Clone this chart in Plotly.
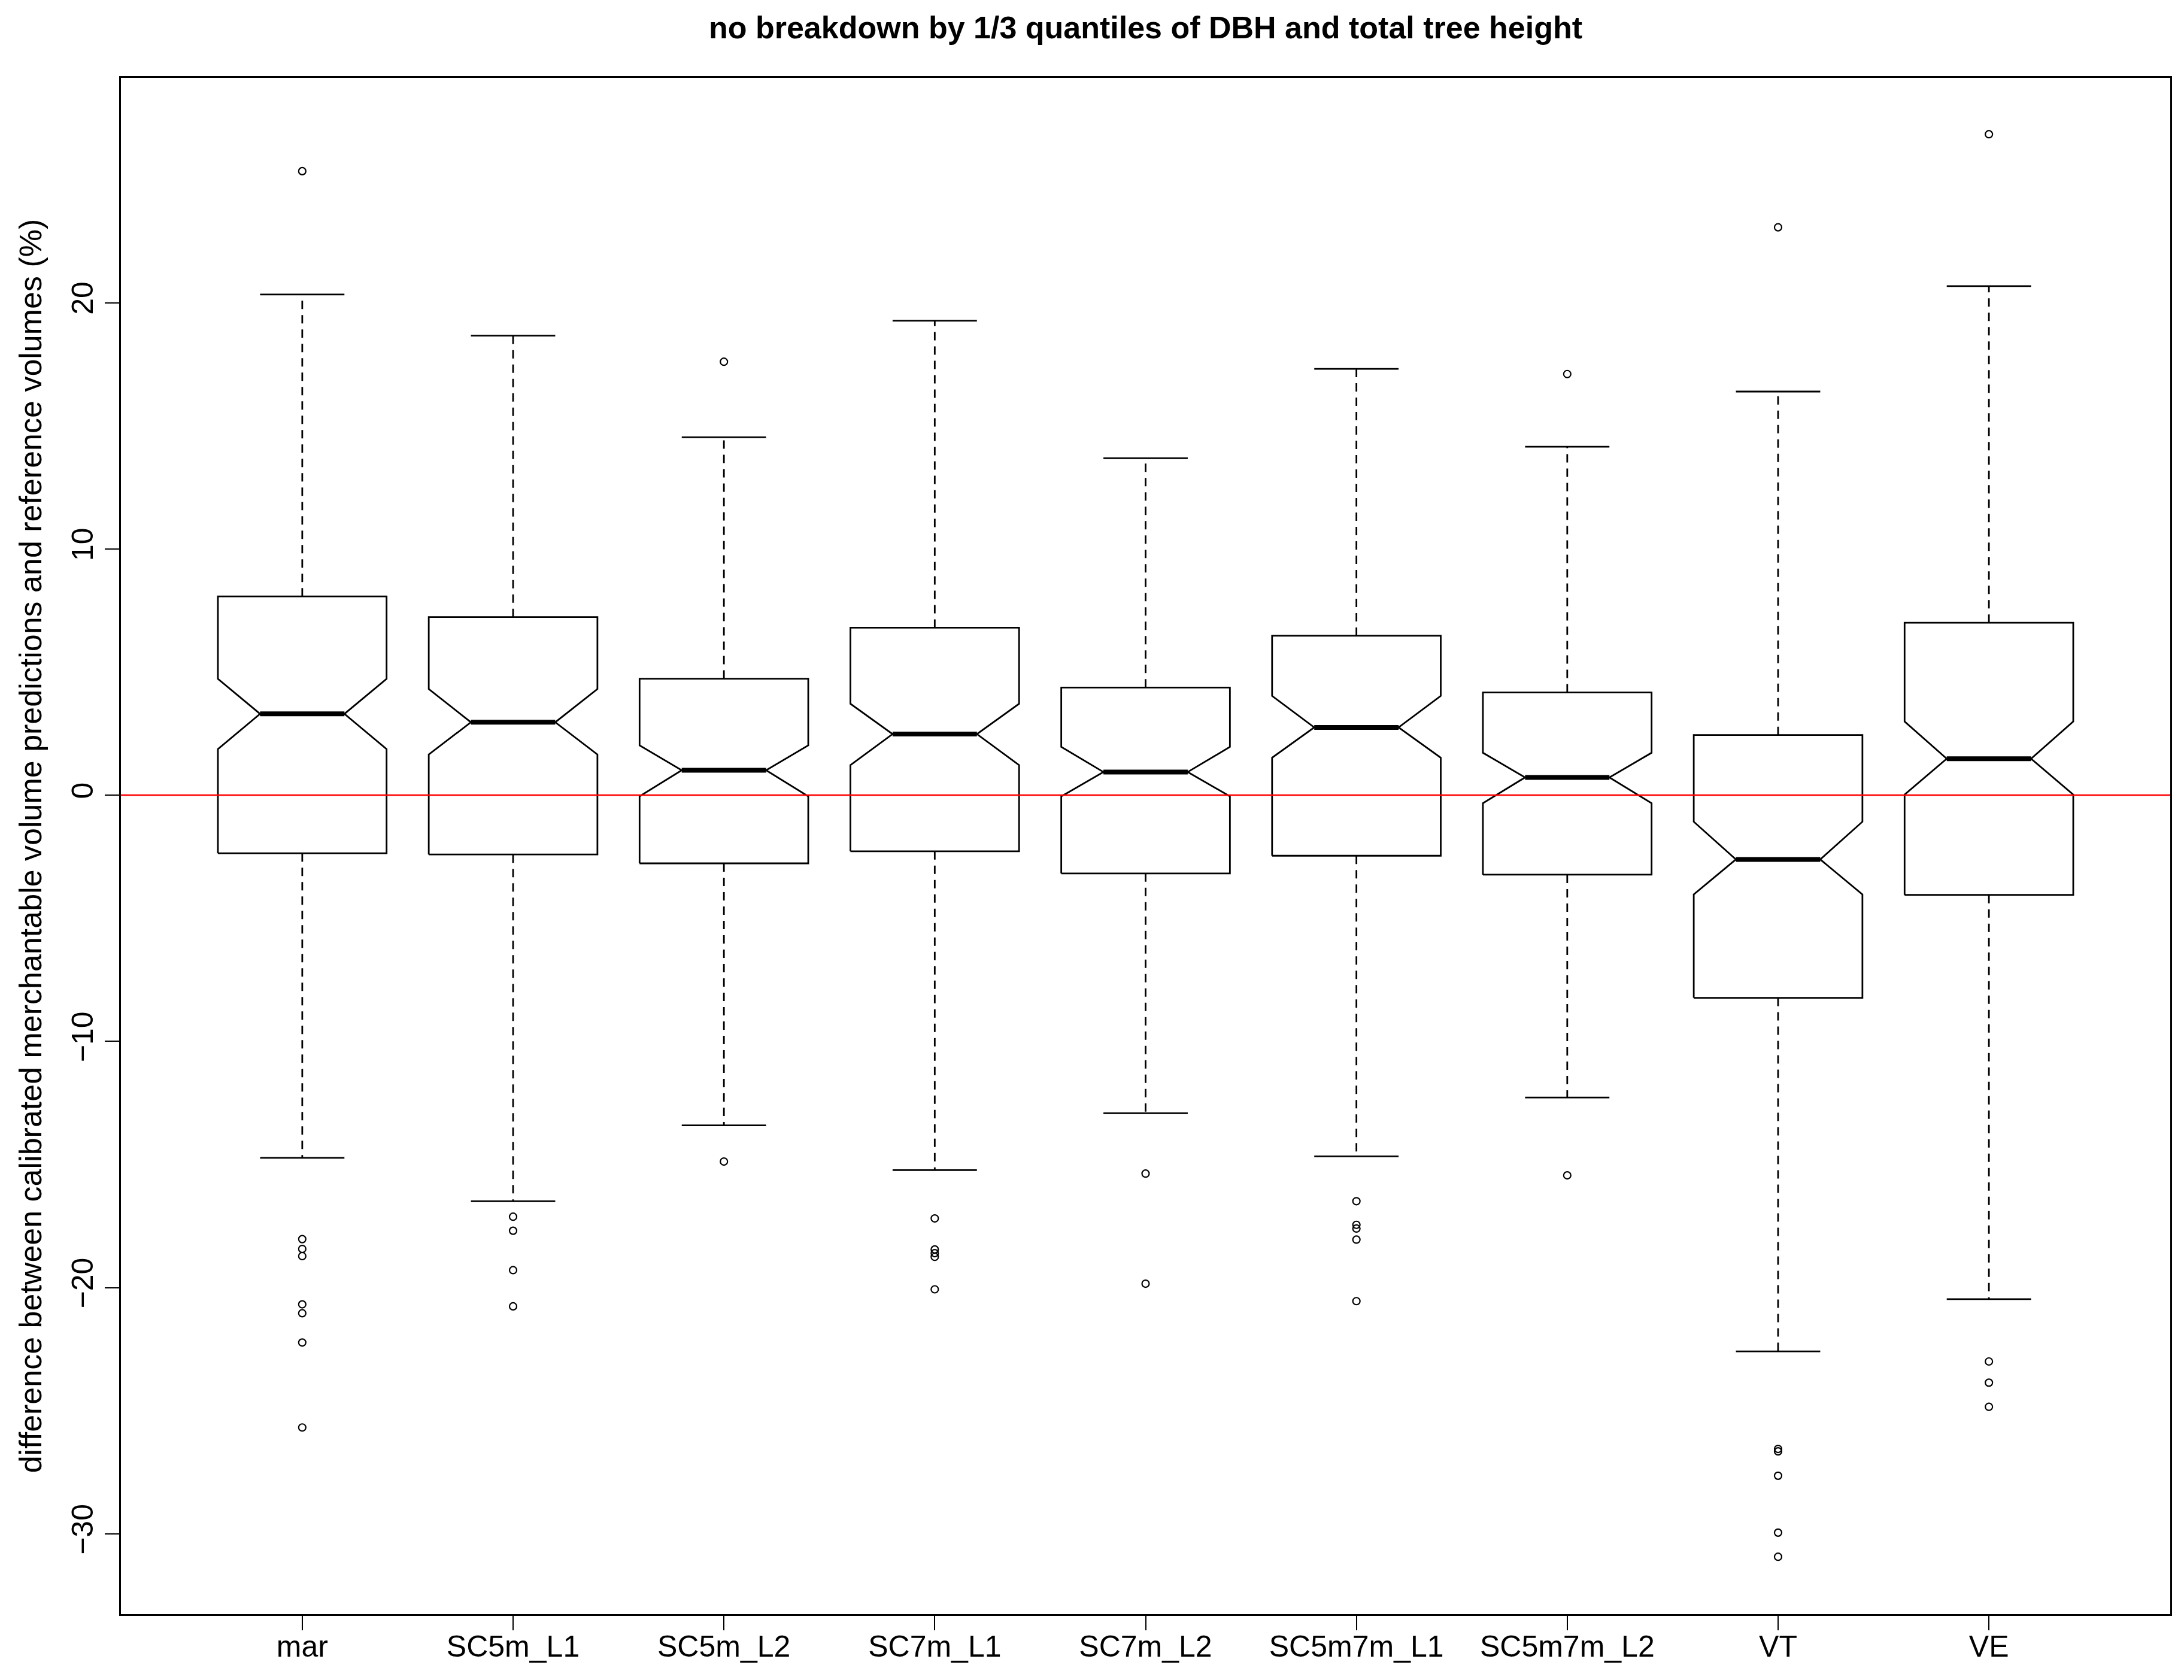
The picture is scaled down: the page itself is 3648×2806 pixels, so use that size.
import plotly.graph_objects as go

# boxplot statistics (values in %)
categories = ["mar", "SC5m_L1", "SC5m_L2", "SC7m_L1", "SC7m_L2",
              "SC5m7m_L1", "SC5m7m_L2", "VT", "VE"]
upper_whisker = [20.33, 18.66, 14.53, 19.27, 13.68, 17.31, 14.15, 16.39, 20.67]
q3 = [8.07, 7.23, 4.73, 6.80, 4.37, 6.47, 4.17, 2.44, 7.00]
median = [3.30, 2.96, 1.01, 2.48, 0.94, 2.75, 0.72, -2.61, 1.48]
q1 = [-2.36, -2.41, -2.77, -2.28, -3.18, -2.46, -3.23, -8.23, -4.05]
lower_whisker = [-14.73, -16.49, -13.41, -15.23, -12.92, -14.67, -12.28, -22.59, -20.47]
notch_hi = [4.72, 4.31, 2.02, 3.71, 1.96, 4.03, 1.72, -1.08, 2.99]
notch_lo = [1.87, 1.65, -0.05, 1.22, -0.05, 1.52, -0.33, -4.03, 0.02]

outliers = {
    "mar": [25.34, -18.03, -18.43, -18.72, -20.68, -21.04, -22.23, -25.68],
    "SC5m_L1": [-17.12, -17.69, -19.29, -20.76],
    "SC5m_L2": [17.60, -14.88],
    "SC7m_L1": [-17.19, -18.45, -18.60, -18.75, -20.07],
    "SC7m_L2": [-15.37, -19.84],
    "SC5m7m_L1": [-16.49, -17.45, -17.60, -18.05, -20.55],
    "SC5m7m_L2": [17.10, -15.44],
    "VT": [23.06, -26.55, -26.65, -27.64, -29.95, -30.93],
    "VE": [26.84, -23.00, -23.86, -24.84],
}

title = "no breakdown by 1/3 quantiles of DBH and total tree height"
ylabel = "difference between calibrated merchantable volume predictions and reference volumes (%)"

FONT = "Liberation Sans, Arial, sans-serif"
half = 0.4      # half box width
lw = 2.8

fig = go.Figure()

for i, cat in enumerate(categories):
    p = i + 1
    # notched box outline
    bx = [p - half, p - half, p - half / 2, p - half, p - half,
          p + half, p + half, p + half / 2, p + half, p + half, p - half]
    by = [q1[i], notch_lo[i], median[i], notch_hi[i], q3[i],
          q3[i], notch_hi[i], median[i], notch_lo[i], q1[i], q1[i]]
    fig.add_trace(go.Scatter(x=bx, y=by, mode="lines",
                             line=dict(color="black", width=lw),
                             hoverinfo="skip", showlegend=False))
    # median
    fig.add_trace(go.Scatter(x=[p - half / 2, p + half / 2], y=[median[i], median[i]],
                             mode="lines", line=dict(color="black", width=8),
                             hoverinfo="skip", showlegend=False))
    # whiskers (dashed)
    fig.add_trace(go.Scatter(x=[p, p, None, p, p],
                             y=[q3[i], upper_whisker[i], None, q1[i], lower_whisker[i]],
                             mode="lines", line=dict(color="black", width=lw, dash="14px,10px"),
                             hoverinfo="skip", showlegend=False))
    # staples
    fig.add_trace(go.Scatter(x=[p - half / 2, p + half / 2, None, p - half / 2, p + half / 2],
                             y=[upper_whisker[i], upper_whisker[i], None,
                                lower_whisker[i], lower_whisker[i]],
                             mode="lines", line=dict(color="black", width=lw),
                             hoverinfo="skip", showlegend=False))
    # outliers
    fig.add_trace(go.Scatter(x=[p] * len(outliers[cat]), y=outliers[cat], mode="markers",
                             marker=dict(symbol="circle-open", size=12, color="black",
                                         line=dict(width=2.2, color="black")),
                             showlegend=False))

# reference line at 0
fig.add_hline(y=0, line=dict(color="red", width=2.6))

# the page body adds an 8px margin around the figure
W, H = 3632, 2790
fig.update_layout(
    width=W,
    height=H,
    margin=dict(l=194, r=13, t=122, b=102),
    paper_bgcolor="white",
    plot_bgcolor="white",
    font=dict(family=FONT, size=50, color="black"),
    title=dict(text=title, x=0.5, xref="paper", y=1 - 38 / H, yref="container",
               yanchor="middle", font=dict(family=FONT, size=52, weight="bold")),
    showlegend=False,
)
fig.update_xaxes(
    range=[0.14, 9.86],
    tickvals=list(range(1, len(categories) + 1)),
    ticktext=categories,
    ticks="outside", ticklen=24, tickwidth=2, tickcolor="black",
    ticklabelstandoff=-16,
    showline=True, linewidth=3, linecolor="black", mirror=True,
    showgrid=False, zeroline=False,
)
fig.update_yaxes(
    range=[-33.26, 29.13],
    tickvals=[-30, -20, -10, 0, 10, 20],
    tickangle=-90,
    ticks="outside", ticklen=24, tickwidth=2, tickcolor="black",
    showline=True, linewidth=3, linecolor="black", mirror=True,
    showgrid=False, zeroline=False,
    title=dict(text=ylabel, font=dict(size=52), standoff=24),
)

fig.write_html("out.html")
